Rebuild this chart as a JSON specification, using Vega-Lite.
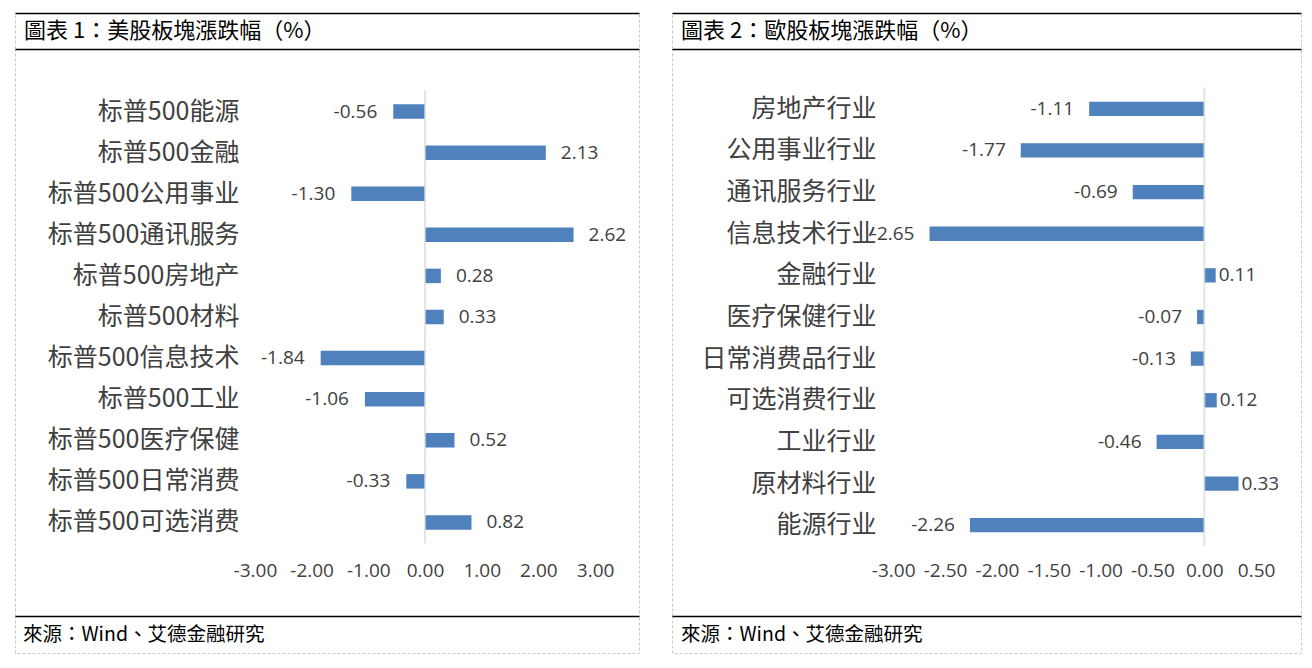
{
  "$schema": "https://vega.github.io/schema/vega-lite/v6.json",
  "padding": {"left": 14, "top": 12, "right": 0, "bottom": 0},
  "background": "white",
  "config": {
    "view": {"stroke": "#c8c8c8", "strokeDash": [3, 2], "strokeWidth": 1},
    "font": "Noto Sans CJK SC",
    "locale": {"number": {"decimal": ".", "thousands": ",", "grouping": [3], "currency": ["$", ""], "minus": "-"}}
  },
  "spacing": 31,
  "hconcat": [
    {
      "bounds": "flush",
      "spacing": 0,
      "vconcat": [
        {
          "width": 624, "height": 36,
          "data": {"values": [{"t": "圖表 1：美股板塊漲跌幅（%）"}]},
          "mark": {"type": "text", "align": "left", "baseline": "middle", "dx": 9, "fontSize": 22, "font": "Noto Sans CJK TC", "color": "#000000"},
          "encoding": {
            "text": {"field": "t"},
            "x": {"datum": 0, "type": "quantitative", "scale": {"domain": [0, 1]},
                  "axis": {"orient": "top", "domain": true, "domainColor": "#000000", "domainWidth": 1.5, "ticks": false, "labels": false, "grid": false, "title": null}}
          }
        },
        {
          "width": 624, "height": 567,
          "data": {"values": [
            {"sector": "标普500能源", "v": -0.56},
            {"sector": "标普500金融", "v": 2.13},
            {"sector": "标普500公用事业", "v": -1.30},
            {"sector": "标普500通讯服务", "v": 2.62},
            {"sector": "标普500房地产", "v": 0.28},
            {"sector": "标普500材料", "v": 0.33},
            {"sector": "标普500信息技术", "v": -1.84},
            {"sector": "标普500工业", "v": -1.06},
            {"sector": "标普500医疗保健", "v": 0.52},
            {"sector": "标普500日常消费", "v": -0.33},
            {"sector": "标普500可选消费", "v": 0.82}
          ]},
          "encoding": {
            "y": {"field": "sector", "type": "nominal", "sort": null,
                  "scale": {"range": [42, 494], "paddingInner": 0.647, "paddingOuter": 0.3235, "align": 0.5},
                  "axis": {"orient": "left", "offset": -224, "domain": false, "ticks": false, "labelPadding": 0, "labelFontSize": 25, "labelColor": "#404040", "labelLimit": 0, "title": null}}
          },
          "resolve": {"axis": {"x": "independent"}},
          "layer": [
            {
              "mark": {"type": "bar", "color": "#4F81BD"},
              "encoding": {
                "x": {"field": "v", "type": "quantitative", "scale": {"domain": [-7.231, 3.774], "nice": false, "zero": false},
                      "axis": {"orient": "bottom", "values": [-3, -2, -1, 0, 1, 2, 3], "format": ".2f", "offset": -55, "domain": false, "ticks": false, "grid": false, "labelPadding": 0, "labelFontSize": 19, "labelFont": "Open Sans", "labelColor": "#404040", "labelOverlap": false, "title": null}}
              }
            },
            {
              "mark": {"type": "tick", "color": "#d9d9d9", "thickness": 2, "size": 42},
              "encoding": {
                "x": {"datum": 0, "type": "quantitative", "scale": {"domain": [-7.231, 3.774], "nice": false, "zero": false},
                      "axis": {"orient": "top", "domain": true, "domainColor": "#000000", "domainWidth": 1.5, "ticks": false, "labels": false, "grid": false, "title": null}}
              }
            },
            {
              "transform": [{"filter": "datum.v >= 0"}],
              "mark": {"type": "text", "align": "left", "baseline": "middle", "dx": 15, "fontSize": 19, "font": "Open Sans", "color": "#404040"},
              "encoding": {
                "x": {"field": "v", "type": "quantitative", "scale": {"domain": [-7.231, 3.774], "nice": false, "zero": false}, "axis": null},
                "text": {"field": "v", "type": "quantitative", "format": ".2f"}
              }
            },
            {
              "transform": [{"filter": "datum.v < 0"}],
              "mark": {"type": "text", "align": "right", "baseline": "middle", "dx": -16, "fontSize": 19, "font": "Open Sans", "color": "#404040"},
              "encoding": {
                "x": {"field": "v", "type": "quantitative", "scale": {"domain": [-7.231, 3.774], "nice": false, "zero": false}, "axis": null},
                "text": {"field": "v", "type": "quantitative", "format": ".2f"}
              }
            }
          ]
        },
        {
          "width": 624, "height": 37,
          "data": {"values": [{"t": "來源：Wind、艾德金融研究"}]},
          "mark": {"type": "text", "align": "left", "baseline": "middle", "dx": 8, "fontSize": 19.5, "font": "Noto Sans CJK TC", "color": "#000000"},
          "encoding": {
            "text": {"field": "t"},
            "x": {"datum": 0, "type": "quantitative", "scale": {"domain": [0, 1]},
                  "axis": {"orient": "top", "domain": true, "domainColor": "#000000", "domainWidth": 1.5, "ticks": false, "labels": false, "grid": false, "title": null}}
          }
        }
      ]
    },
    {
      "bounds": "flush",
      "spacing": 0,
      "vconcat": [
        {
          "width": 629, "height": 36,
          "data": {"values": [{"t": "圖表 2：歐股板塊漲跌幅（%）"}]},
          "mark": {"type": "text", "align": "left", "baseline": "middle", "dx": 9, "fontSize": 22, "font": "Noto Sans CJK TC", "color": "#000000"},
          "encoding": {
            "text": {"field": "t"},
            "x": {"datum": 0, "type": "quantitative", "scale": {"domain": [0, 1]},
                  "axis": {"orient": "top", "domain": true, "domainColor": "#000000", "domainWidth": 1.5, "ticks": false, "labels": false, "grid": false, "title": null}}
          }
        },
        {
          "width": 629, "height": 567,
          "data": {"values": [
            {"sector": "房地产行业", "v": -1.11},
            {"sector": "公用事业行业", "v": -1.77},
            {"sector": "通讯服务行业", "v": -0.69},
            {"sector": "信息技术行业", "v": -2.65},
            {"sector": "金融行业", "v": 0.11},
            {"sector": "医疗保健行业", "v": -0.07},
            {"sector": "日常消费品行业", "v": -0.13},
            {"sector": "可选消费行业", "v": 0.12},
            {"sector": "工业行业", "v": -0.46},
            {"sector": "原材料行业", "v": 0.33},
            {"sector": "能源行业", "v": -2.26}
          ]},
          "encoding": {
            "y": {"field": "sector", "type": "nominal", "sort": null,
                  "scale": {"range": [39, 497], "paddingInner": 0.656, "paddingOuter": 0.328, "align": 0.5},
                  "axis": {"orient": "left", "offset": -204, "domain": false, "ticks": false, "labelPadding": 0, "labelFontSize": 25, "labelColor": "#404040", "labelLimit": 0, "title": null}}
          },
          "resolve": {"axis": {"x": "independent"}},
          "layer": [
            {
              "mark": {"type": "bar", "color": "#4F81BD"},
              "encoding": {
                "x": {"field": "v", "type": "quantitative", "scale": {"domain": [-5.133, 0.9325], "nice": false, "zero": false},
                      "axis": {"orient": "bottom", "values": [-3, -2.5, -2, -1.5, -1, -0.5, 0, 0.5], "format": ".2f", "offset": -55, "domain": false, "ticks": false, "grid": false, "labelPadding": 0, "labelFontSize": 19, "labelFont": "Open Sans", "labelColor": "#404040", "labelOverlap": false, "title": null}}
              }
            },
            {
              "mark": {"type": "tick", "color": "#d9d9d9", "thickness": 2, "size": 43},
              "encoding": {
                "x": {"datum": 0, "type": "quantitative", "scale": {"domain": [-5.133, 0.9325], "nice": false, "zero": false},
                      "axis": {"orient": "top", "domain": true, "domainColor": "#000000", "domainWidth": 1.5, "ticks": false, "labels": false, "grid": false, "title": null}}
              }
            },
            {
              "transform": [{"filter": "datum.v >= 0"}],
              "mark": {"type": "text", "align": "left", "baseline": "middle", "dx": 3, "fontSize": 19, "font": "Open Sans", "color": "#404040"},
              "encoding": {
                "x": {"field": "v", "type": "quantitative", "scale": {"domain": [-5.133, 0.9325], "nice": false, "zero": false}, "axis": null},
                "text": {"field": "v", "type": "quantitative", "format": ".2f"}
              }
            },
            {
              "transform": [{"filter": "datum.v < 0"}],
              "mark": {"type": "text", "align": "right", "baseline": "middle", "dx": -15, "fontSize": 19, "font": "Open Sans", "color": "#404040"},
              "encoding": {
                "x": {"field": "v", "type": "quantitative", "scale": {"domain": [-5.133, 0.9325], "nice": false, "zero": false}, "axis": null},
                "text": {"field": "v", "type": "quantitative", "format": ".2f"}
              }
            }
          ]
        },
        {
          "width": 629, "height": 37,
          "data": {"values": [{"t": "來源：Wind、艾德金融研究"}]},
          "mark": {"type": "text", "align": "left", "baseline": "middle", "dx": 9, "fontSize": 19.5, "font": "Noto Sans CJK TC", "color": "#000000"},
          "encoding": {
            "text": {"field": "t"},
            "x": {"datum": 0, "type": "quantitative", "scale": {"domain": [0, 1]},
                  "axis": {"orient": "top", "domain": true, "domainColor": "#000000", "domainWidth": 1.5, "ticks": false, "labels": false, "grid": false, "title": null}}
          }
        }
      ]
    }
  ]
}
